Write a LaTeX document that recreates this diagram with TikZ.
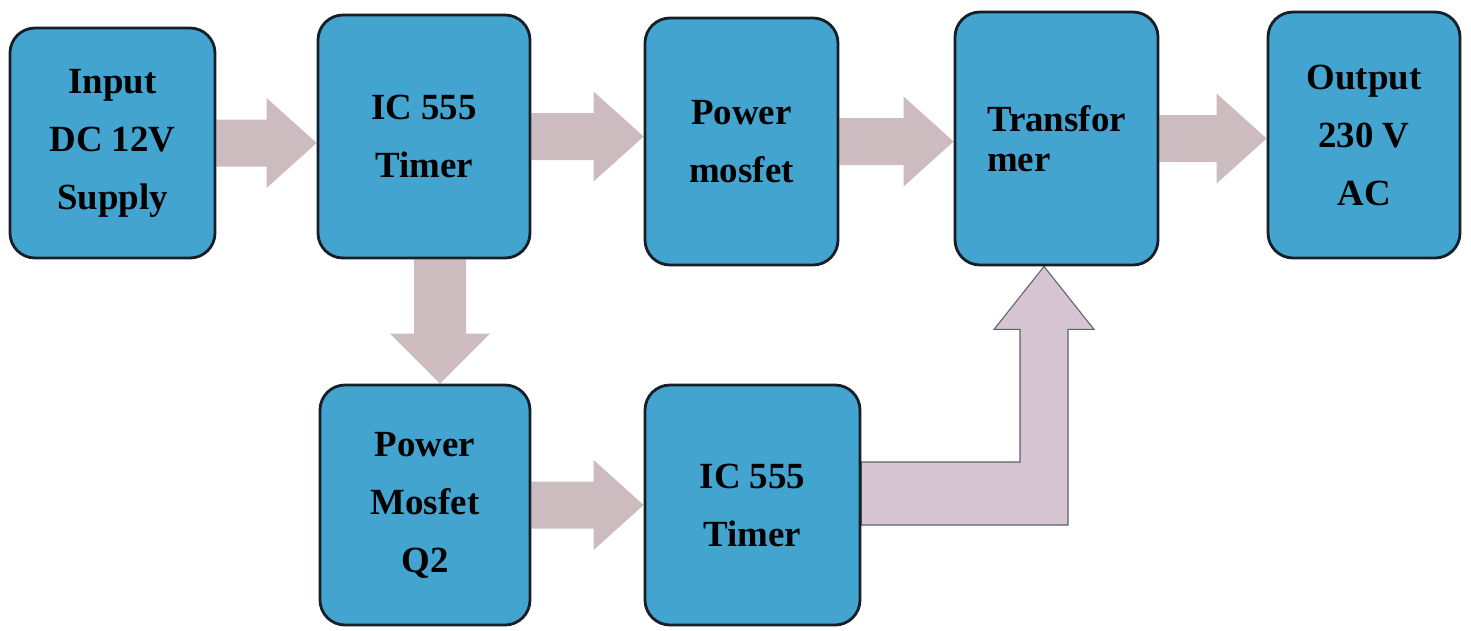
\documentclass[tikz,border=0pt]{standalone}
\usepackage{fontspec}
\setmainfont{Liberation Serif}
\usetikzlibrary{calc,backgrounds}

\definecolor{boxblue}{RGB}{68,164,208}
\definecolor{boxline}{RGB}{22,30,40}
\definecolor{arrowgray}{RGB}{204,188,192}
\definecolor{arrowpink}{RGB}{214,196,210}

\begin{document}
\begin{tikzpicture}[
    block/.style={draw=boxline, fill=boxblue, line width=1.6pt, rounded corners=0.5cm,
      align=center, font=\fontsize{21}{33}\selectfont\bfseries, inner sep=0pt},
    harrow/.style={fill=arrowgray},
    uparrow/.style={fill=arrowpink, draw=boxline!70, line width=0.6pt}
  ]

  \useasboundingbox (0,0) rectangle (29.42,-12.6);

  % top row
  \node[block, minimum width=4.1cm, minimum height=4.6cm] (inp) at (2.25,-2.86) {Input\\DC 12V\\Supply};
  \node[block, minimum width=4.24cm, minimum height=4.86cm] (tima) at (8.48,-2.73) {IC 555\\Timer};
  \node[block, minimum width=3.86cm, minimum height=4.94cm] (mosa) at (14.83,-2.83) {Power\\mosfet};
  \node[block, minimum width=4.06cm, minimum height=5.06cm, align=left] (trf) at (21.13,-2.77) {Transfor\\[-0.35cm]mer};
  \node[block, minimum width=3.84cm, minimum height=4.92cm] (out) at (27.28,-2.70) {Output\\230 V\\AC};

  % bottom row
  \node[block, minimum width=4.2cm, minimum height=4.8cm] (mosb) at (8.5,-10.1) {Power\\Mosfet\\Q2};
  \node[block, minimum width=4.3cm, minimum height=4.8cm] (timb) at (15.05,-10.1) {IC 555\\Timer};

  \begin{pgfonlayer}{background}
    % straight block arrows
    \foreach \a/\b in {inp/tima,tima/mosa,mosa/trf,trf/out,mosb/timb} {
      \fill[harrow] let \p1=(\a.east), \p2=(\b.west) in
        (\x1,\y1+0.47cm) -- (\x2-1cm,\y1+0.47cm) -- (\x2-1cm,\y1+0.9cm) -- (\x2,\y1)
        -- (\x2-1cm,\y1-0.9cm) -- (\x2-1cm,\y1-0.47cm) -- (\x1,\y1-0.47cm) -- cycle;
    }

    % down arrow
    \fill[harrow] let \p1=($(tima.south)+(0.32,0)$), \p2=(\p1 |- mosb.north) in
      (\x1-0.52cm,\y1) -- (\x1-0.52cm,\y2+1cm) -- (\x1-1cm,\y2+1cm) -- (\x1,\y2)
      -- (\x1+1cm,\y2+1cm) -- (\x1+0.52cm,\y2+1cm) -- (\x1+0.52cm,\y1) -- cycle;

    % elbow arrow up to the transformer
    \coordinate (tip) at ($(trf.south)+(-0.25,0)$);
    \filldraw[uparrow] let \p1=(timb.east), \p2=(tip) in
      (\x1,\y1+0.86cm) -- (\x2-0.48cm,\y1+0.86cm) -- (\x2-0.48cm,\y2-1.26cm)
      -- (\x2-1cm,\y2-1.26cm) -- (\p2) -- (\x2+1cm,\y2-1.26cm) -- (\x2+0.48cm,\y2-1.26cm)
      -- (\x2+0.48cm,\y1-0.4cm) -- (\x1,\y1-0.4cm) -- cycle;
  \end{pgfonlayer}

\end{tikzpicture}
\end{document}
